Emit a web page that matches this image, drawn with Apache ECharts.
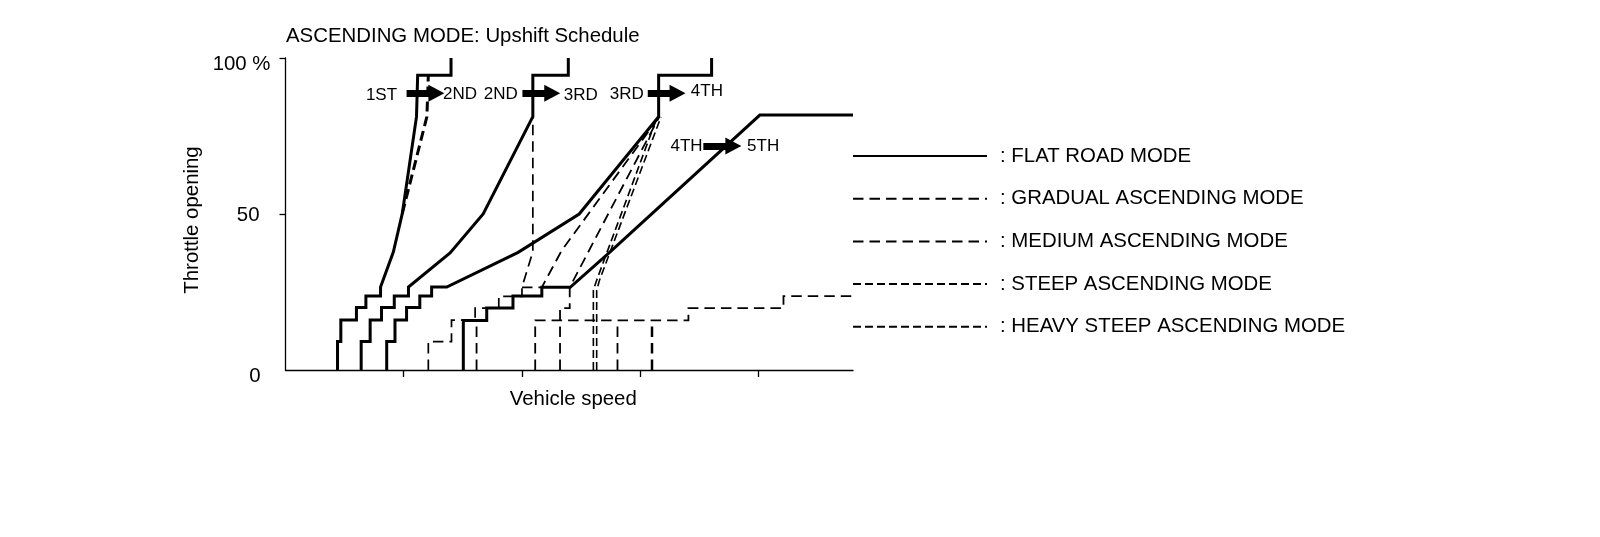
<!DOCTYPE html>
<html>
<head>
<meta charset="utf-8">
<script src="https://cdn.jsdelivr.net/npm/echarts@6/dist/echarts.min.js"></script>
<style>
html,body{margin:0;padding:0;background:#fff;}
#chart{width:1600px;height:537px;}
</style>
</head>
<body>
<div id="chart"></div>
<script>
// ---- Data (x: vehicle speed, arbitrary units 0-120; y: throttle opening %) ----
const modeNames = ['FLAT ROAD MODE', 'GRADUAL ASCENDING MODE', 'MEDIUM ASCENDING MODE', 'STEEP ASCENDING MODE', 'HEAVY STEEP ASCENDING MODE'];

// Flat road mode (solid) upshift lines
const flat12 = [[11.0,0],[11.0,9.1],[11.7,9.1],[11.7,16.0],[15.0,16.0],[15.0,20.0],[17.0,20.0],[17.0,23.7],[20.1,23.7],[20.1,26.6],[22.8,37.8],[24.7,50.2],[27.7,81.2],[27.95,94.5],[35.0,94.5],[35.0,100]];
const flat23 = [[16.0,0],[16.0,9.1],[17.9,9.1],[17.9,16.0],[20.3,16.0],[20.3,20.0],[23.0,20.0],[23.0,23.7],[26.0,23.7],[26.0,26.6],[34.8,37.5],[41.8,50.0],[52.3,81.2],[52.3,94.5],[59.8,94.5],[59.8,100]];
const flat34 = [[21.4,0],[21.4,9.1],[23.15,9.1],[23.15,16.0],[25.6,16.0],[25.6,20.0],[28.4,20.0],[28.4,23.7],[30.9,23.7],[30.9,26.6],[34.1,26.6],[49.2,37.7],[62.1,50.0],[78.9,81.2],[78.9,94.5],[90.1,94.5],[90.1,100]];
const flat45 = [[37.6,0],[37.6,15.9],[42.55,15.9],[42.55,19.9],[48.1,19.9],[48.1,23.7],[54.2,23.7],[54.2,26.5],[60.2,26.5],[68.3,37.4],[100.3,81.7],[120,81.7]];

// Gradual ascending mode (dashed)
const gradual12 = [[24.7,50.2],[29.9,81.2],[30.2,94.5]];
const gradual23 = [[30.2,0],[30.2,9.1],[35.1,9.1],[35.1,16.0],[40.1,16.0],[40.1,19.8],[45.1,19.8],[45.1,23.6],[50.0,23.6],[50.0,26.5],[52.3,37.9],[52.3,81.2]];
const gradual34 = [[50.0,26.5],[54.2,26.5],[58.4,38.3],[79.0,81.1]];

// Medium ascending mode (dashed)
const medium23 = [[40.4,0],[40.4,16.0]];
const medium34 = [[58.05,0],[58.05,19.8],[60.1,19.8],[60.1,26.5],[79.0,81.1]];
const medium45 = [[70.2,0],[70.2,15.9]];

// Steep ascending mode (dashed)
const steep34 = [[65.1,0],[65.1,25.6],[65.8,28.8],[78.6,81.1]];
const steep45 = [[52.8,0],[52.8,15.9],[85.2,15.9],[85.2,19.8],[105.3,19.8],[105.3,23.7],[120,23.7]];

// Heavy steep ascending mode (dashed)
const heavy34 = [[65.8,0],[65.8,25.6],[66.4,28.8],[79.4,81.1]];
const heavy45 = [[77.5,0],[77.5,15.9]];

// Gear annotations: [text, x, y]
const gearLabels = [['1ST',20.3,87.9],['2ND',36.9,88.5],['2ND',45.5,88.5],['3RD',62.45,88.2],['3RD',72.15,88.4],['4TH',89.1,89.2],['4TH',84.8,71.7],['5TH',101.0,71.8]];
// Shift arrows: [xStart, xHeadCenter, y]
const shiftArrows = [[25.6,31.9,88.7],[50.1,56.4,88.7],[76.6,82.9,88.7],[88.35,94.7,71.8]];

const yTickLabels = {0:'0', 50:'50', 100:'100 %'};

// ---- Chart ----
const FONT = '"Liberation Sans", Arial, sans-serif';
const FS = 20.4;
const DASH = [10.5, 6];

function lineSeries(name, data, width, dash, z) {
  return {
    type: 'line', name: name, data: data, symbol: 'none', showSymbol: false,
    silent: true, clip: false, animation: false, color: '#000', z: z || 2,
    lineStyle: { color: '#000', width: width, type: dash ? dash : 'solid', cap: 'butt', join: 'miter' },
    emphasis: { disabled: true }
  };
}

const series = [
  lineSeries(modeNames[0], flat12, 3, null, 5),
  lineSeries(modeNames[0], flat23, 3, null, 5),
  lineSeries(modeNames[0], flat34, 3, null, 5),
  lineSeries(modeNames[0], flat45, 3, null, 5),
  lineSeries(modeNames[1], gradual23, 1.7, DASH),
  lineSeries(modeNames[1], gradual12, 3, [10, 5]),
  lineSeries(modeNames[1], gradual34, 1.8, DASH),
  lineSeries(modeNames[2], medium34, 1.8, DASH),
  lineSeries(modeNames[2], medium23, 1.8, DASH),
  lineSeries(modeNames[2], medium45, 1.8, DASH),
  lineSeries(modeNames[3], steep34, 1.6, [8, 4]),
  lineSeries(modeNames[3], steep45, 1.8, DASH),
  lineSeries(modeNames[4], heavy34, 1.6, [8, 4]),
  lineSeries(modeNames[4], heavy45, 2.5, DASH),
  {
    type: 'scatter', name: 'annotations', silent: true, animation: false,
    symbolSize: 0, z: 6, color: '#000',
    itemStyle: { opacity: 1, color: '#000' },
    data: gearLabels.map(g => ({ name: g[0], value: [g[1], g[2]] })),
    label: { show: true, position: 'inside', formatter: '{b}', fontSize: 17, color: '#000', opacity: 1, fontFamily: FONT, textBorderWidth: 0, textBorderColor: 'transparent' },
    emphasis: { disabled: true },
    markLine: {
      silent: true, animation: false,
      symbol: ['none', 'triangle'], symbolSize: [17, 16],
      label: { show: false },
      lineStyle: { color: '#000', width: 7, type: 'solid', opacity: 1 },
      emphasis: { disabled: true },
      data: shiftArrows.map(a => [{ coord: [a[0], a[2]] }, { coord: [a[1], a[2]] }])
    }
  }
];

const option = {
  animation: false,
  backgroundColor: '#fff',
  textStyle: { fontFamily: FONT, color: '#000' },
  title: {
    text: 'ASCENDING MODE: Upshift Schedule',
    left: 286, top: 26, padding: 0,
    textStyle: { fontSize: FS, fontWeight: 'normal', color: '#000', fontFamily: FONT, lineHeight: 20 }
  },
  grid: { left: 285.5, top: 58, width: 567.5, height: 312 },
  legend: {
    data: modeNames,
    orient: 'vertical', left: 852, top: 146, padding: 0,
    itemWidth: 134, itemHeight: 14, itemGap: 22.7,
    selectedMode: false,
    formatter: ': {name}',
    itemStyle: { opacity: 0 },
    textStyle: { fontSize: FS, color: '#000', fontFamily: FONT, lineHeight: 20, padding: [0, 0, 0, 8] }
  },
  xAxis: {
    type: 'value', min: 0, max: 120,
    name: 'Vehicle speed', nameLocation: 'middle', nameGap: 19,
    nameTextStyle: { fontSize: FS, color: '#000', fontFamily: FONT, lineHeight: 20, padding: [0, 0, 0, 8] },
    axisLine: { show: true, lineStyle: { color: '#000', width: 1.3 } },
    axisTick: { show: true, customValues: [25, 50, 75, 100], length: 7, lineStyle: { color: '#000', width: 1.3 } },
    axisLabel: { show: false },
    splitLine: { show: false }
  },
  yAxis: {
    type: 'value', min: 0, max: 100, interval: 50,
    name: 'Throttle opening', nameLocation: 'middle', nameGap: 83,
    nameTextStyle: { fontSize: FS, color: '#000', fontFamily: FONT, lineHeight: 20, padding: [0, 12, 0, 0] },
    axisLine: { show: true, lineStyle: { color: '#000', width: 1.3 } },
    axisTick: { show: true, customValues: [50, 100], length: 6, lineStyle: { color: '#000', width: 1.3 } },
    axisLabel: {
      margin: 15, fontSize: FS, color: '#000', fontFamily: FONT,
      formatter: function (v) {
        const t = yTickLabels[v];
        if (v === 100) return '{t|' + t + '}';
        if (v === 0) return '{b|' + t + '}';
        return '{m|' + t + '}';
      },
      rich: {
        t: { fontSize: FS, color: '#000', fontFamily: FONT, padding: [12, 0, 0, 0] },
        b: { fontSize: FS, color: '#000', fontFamily: FONT, padding: [12, 10, 0, 0] },
        m: { fontSize: FS, color: '#000', fontFamily: FONT, padding: [3, 11, 0, 0] }
      }
    },
    splitLine: { show: false }
  },
  series: series
};

const chart = echarts.init(document.getElementById('chart'), null, { renderer: 'canvas' });
chart.setOption(option);
</script>
</body>
</html>
